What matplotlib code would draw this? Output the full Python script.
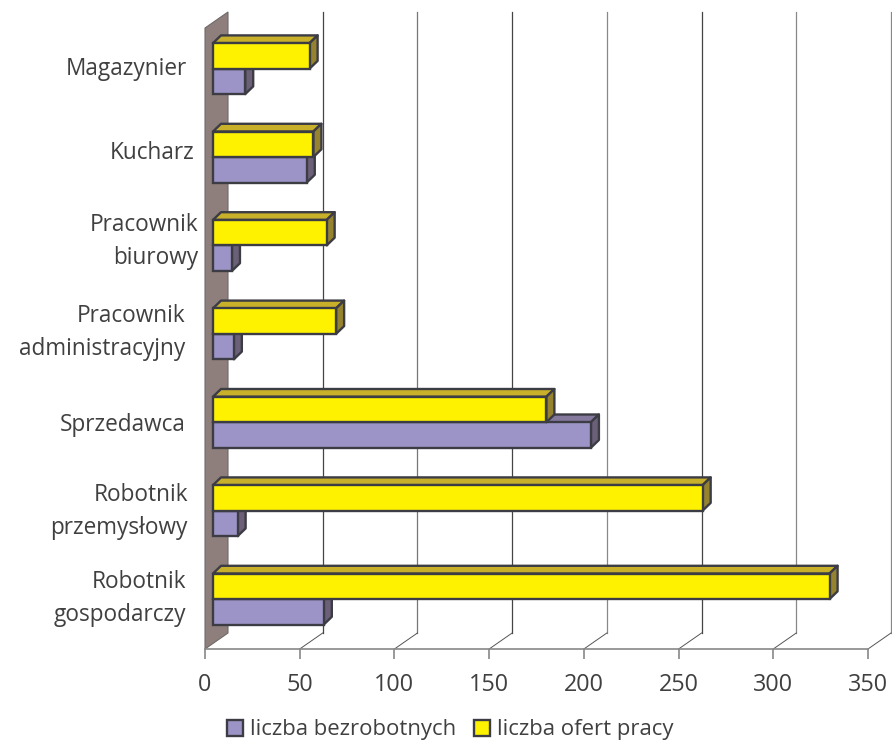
import matplotlib
matplotlib.use("Agg")
import matplotlib.pyplot as plt
from matplotlib.patches import Patch

categories = ["Robotnik\ngospodarczy", "Robotnik\nprzemysłowy", "Sprzedawca",
              "Pracownik\nadministracyjny", "Pracownik\nbiurowy", "Kucharz", "Magazynier"]
bezrobotni = [58.5, 13, 199.5, 11, 10, 49.5, 17]
oferty = [325.5, 258.5, 176, 65, 60, 53, 51]
xticks = [0, 50, 100, 150, 200, 250, 300, 350]

# where the label text ends / how far it sits from the category centre, in pixels
label_right = [186, 188, 186, 185, 198, 195, 187]
label_up = [6, 5, 3, 7, 10, 10, 5]
grid_colors = ["#444444", "#777777", "#444444", "#888888", "#444444", "#888888", "#888888"]

W, H = 892, 742
PX_X = 663 / 350      # pixels per value
PX_Y = 88.4           # pixels per category

plt.rcParams["font.family"] = "Open Sans"

fig = plt.figure(figsize=(W / 100, H / 100), dpi=100)
ax = fig.add_axes([205 / W, (H - 649) / H, 663 / W, 621 / H])
ax.set_xlim(0, 350)
ax.set_ylim(-0.5, -0.5 + 621 / PX_Y)
bottom, top = ax.get_ylim()

# back wall and floor
wall_dx, wall_dy = 23 / PX_X, 16 / PX_Y
ax.fill([0, wall_dx, wall_dx, 0], [bottom, bottom + wall_dy, top + wall_dy, top],
        facecolor="#8F7F7C", edgecolor="#6E6A6A", lw=0.8, clip_on=False, zorder=1)
for t, c in zip(xticks[1:], grid_colors):
    ax.plot([t + wall_dx, t + wall_dx], [bottom + wall_dy, top + wall_dy], color=c, lw=0.9,
            clip_on=False, zorder=1)
    ax.plot([t, t + wall_dx], [bottom, bottom + wall_dy], color="#555555", lw=0.7,
            clip_on=False, zorder=1)


def bar3d(y0, value, front, top_c, side, z):
    # one bar with its top and right faces
    left = 8 / PX_X
    h = 25.5 / PX_Y
    dx, dy = 8 / PX_X, 7.7 / PX_Y
    right = left + value
    kw = dict(edgecolor="#3C3C44", lw=1.7, joinstyle="round", clip_on=False, zorder=z)
    ax.fill([left, left + dx, right + dx, right], [y0 + h, y0 + h + dy, y0 + h + dy, y0 + h],
            facecolor=top_c, **kw)
    ax.fill([right, right + dx, right + dx, right], [y0, y0 + dy, y0 + h + dy, y0 + h],
            facecolor=side, **kw)
    ax.barh(y0, value, height=h, left=left, align="edge", facecolor=front, clip_on=False,
            edgecolor="#3C3C44", lw=1.7, zorder=z)


mid = 5.8 / PX_Y
for i in range(len(categories)):
    bar3d(i + mid - 25.5 / PX_Y, bezrobotni[i], "#9C94C6", "#857A9E", "#6B6078", 3 + i * 2)
    bar3d(i + mid, oferty[i], "#FFF200", "#C8B02B", "#96832F", 4 + i * 2)

for i, label in enumerate(categories):
    ax.annotate(label, (0, i), xytext=(label_right[i] - 205, label_up[i]),
                textcoords="offset pixels", ha="right", va="center", multialignment="right",
                fontsize=16.3, color="#404040", linespacing=1.5, annotation_clip=False)

ax.set_yticks([])
for s in ["top", "left", "right"]:
    ax.spines[s].set_visible(False)
ax.spines["bottom"].set_color("#888888")
ax.spines["bottom"].set_linewidth(1.2)
ax.set_xticks(xticks)
ax.tick_params(axis="x", length=7.2, width=1.2, color="#888888", pad=10, labelsize=16.8,
               labelcolor="#404040")
ax.set_facecolor("none")

handles = [Patch(facecolor="#9C94C6", edgecolor="#3C3C44", lw=1.7, label="liczba bezrobotnych"),
           Patch(facecolor="#FFF200", edgecolor="#3C3C44", lw=1.7, label="liczba ofert pracy")]
leg = fig.legend(handles=handles, loc="center left", bbox_to_anchor=(207 / W, 1 - 730 / H),
                 ncol=2, frameon=False, fontsize=15.9, handlelength=0.72, handleheight=0.7,
                 handletextpad=0.33, columnspacing=0.8, labelcolor="#404040")

fig.savefig("out.png", dpi=100)
